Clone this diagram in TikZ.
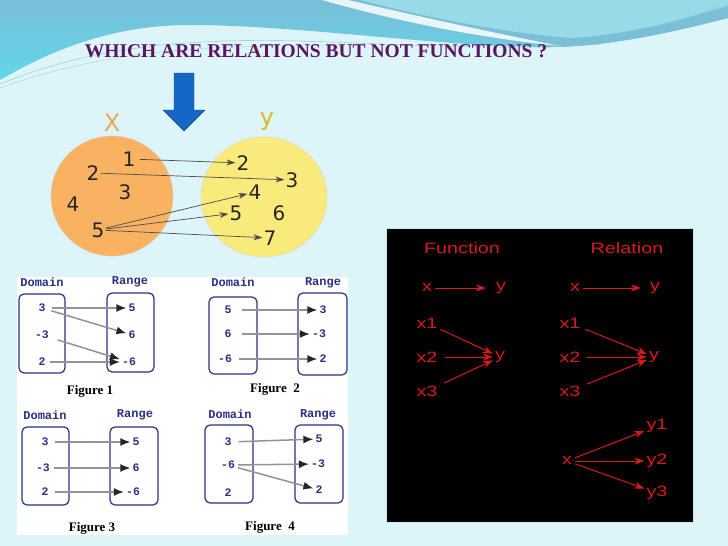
\documentclass[tikz,border=0pt]{standalone}
\usepackage{fontspec}
\setmainfont{Liberation Serif}
\newfontfamily\circfont{DejaVu Sans}
\newfontfamily\redfont{Liberation Sans}
\newfontfamily\figmono{Liberation Mono}
\usepackage{xcolor}
\usetikzlibrary{arrows.meta}

\definecolor{bgpale}{HTML}{DDF4F8}
\definecolor{topblue}{HTML}{78BFD7}
\definecolor{topcyan}{HTML}{62D6EA}
\definecolor{toplight}{HTML}{98DAE7}
\definecolor{titlepurple}{HTML}{5A1462}
\definecolor{arrowblue}{HTML}{1467C4}
\definecolor{setorange}{HTML}{F8B262}
\definecolor{setyellow}{HTML}{F8EB7C}
\definecolor{figblue}{HTML}{2B2F86}
\definecolor{redtext}{HTML}{D81A1A}

\newcommand{\wide}[1]{\scalebox{1.32}[1]{#1}}

\begin{document}
\begin{tikzpicture}[x=1pt, y=-1pt,
    setnum/.style={font=\circfont\fontsize{20}{20}\selectfont, text=black!85, inner sep=1pt},
    setarrow/.style={-{Stealth[length=9pt,width=6pt]}, draw=black!70, line width=0.7pt},
    domlabel/.style={font=\figmono\bfseries\fontsize{12}{12}\selectfont, text=figblue},
    figval/.style={font=\figmono\bfseries\fontsize{11.5}{11.5}\selectfont, text=figblue, inner sep=1pt},
    figbox/.style={draw=figblue, line width=1.2pt, rounded corners=5pt},
    figarrow/.style={-{Latex[length=10pt,width=8pt,color=black!85]}, draw=gray!85, line width=1.5pt, shorten <=3pt, shorten >=1pt},
    figcap/.style={font=\bfseries\fontsize{13}{13}\selectfont},
    redlab/.style={font=\redfont\fontsize{15}{15}\selectfont, text=redtext, inner sep=1pt},
    redarrow/.style={-{Stealth[length=10pt,width=7pt]}, draw=redtext, line width=1pt, shorten <=2pt, shorten >=1pt}]

  \useasboundingbox (0,0) rectangle (728,546);

  % slide background
  \fill[bgpale] (0,0) rectangle (728,546);
  \shade[top color=topblue, bottom color=topcyan] (0,0) -- (0,80)
    .. controls (60,45) and (120,25) .. (190,25)
    .. controls (300,25) and (450,48) .. (550,47)
    .. controls (620,45) and (680,30) .. (728,18) -- (728,0) -- cycle;
  \fill[topblue] (330,0) .. controls (420,25) and (490,42) .. (560,47)
    .. controls (620,45) and (680,30) .. (728,18) -- (728,0) -- cycle;
  \fill[toplight] (360,0) .. controls (430,18) and (500,32) .. (570,38)
    .. controls (640,34) and (690,16) .. (728,6) -- (728,0) -- cycle;
  \fill[white, opacity=0.85] (322,0) .. controls (400,22) and (480,38) .. (560,46)
    .. controls (470,28) and (400,12) .. (348,0) -- cycle;
  \draw[teal!45, thin] (0,84) .. controls (90,48) and (180,36) .. (330,42)
    .. controls (430,46) and (520,50) .. (600,44);
  \draw[teal!35, thin] (0,88) .. controls (100,52) and (200,44) .. (340,46);
  \draw[teal!45, thin] (540,48) .. controls (620,42) and (690,18) .. (728,4);

  % title
  \node[font=\bfseries\fontsize{19.5}{19.5}\selectfont, text=titlepurple] (title) at (316,51)
    {WHICH ARE RELATIONS BUT NOT FUNCTIONS ?};

  % down arrow
  \filldraw[fill=arrowblue, draw=arrowblue!70!black] (174,73) -- (194,73) -- (194,110)
    -- (205,110) -- (184,131) -- (163,110) -- (174,110) -- cycle;

  % the two sets
  \draw[fill=setorange, draw=brown!45] (112,196) ellipse [x radius=61pt, y radius=60pt];
  \draw[fill=setyellow, draw=brown!35] (264,197) ellipse [x radius=63pt, y radius=60pt];
  \node[font=\circfont\fontsize{24}{24}\selectfont, text=orange!60!brown!70] (setx) at (112,123) {X};
  \node[font=\circfont\fontsize{24}{24}\selectfont, text=yellow!70!orange!85!black] (sety) at (267,121) {y};

  \node[setnum] (xa) at (129,159) {1};
  \node[setnum] (xb) at (93,173) {2};
  \node[setnum] (xc) at (125,192) {3};
  \node[setnum] (xd) at (73,204) {4};
  \node[setnum] (xe) at (98,230) {5};
  \node[setnum] (yb) at (243,163) {2};
  \node[setnum] (yc) at (292,180) {3};
  \node[setnum] (yd) at (255,192) {4};
  \node[setnum] (ye) at (236,213) {5};
  \node[setnum] (yf) at (279,213) {6};
  \node[setnum] (yg) at (270,238) {7};

  \draw[setarrow, shorten <=3pt] (xa) -- (yb);
  \draw[setarrow] (xb) -- (yc);
  \draw[setarrow] (xe) -- (yd);
  \draw[setarrow] (xe) -- (ye);
  \draw[setarrow] (xe) -- (yg);

  % four mapping figures
  \fill[white] (17,277) rectangle (348,535);

  % figure 1
  \draw[figbox] (19,294) rectangle (65,373);
  \draw[figbox] (107,293) rectangle (154,372);
  \node[domlabel] (dom1) at (42,282) {Domain};
  \node[domlabel] (ran1) at (130,282) {Range};
  \node[figval] (pa1) at (42,308) {3};
  \node[figval] (pa2) at (42,335) {-3};
  \node[figval] (pa3) at (42,362) {2};
  \node[figval] (qa1) at (132,308) {5};
  \node[figval] (qa2) at (132,335) {6};
  \node[figval] (qa3) at (129,362) {-6};
  \draw[figarrow, shorten <=5pt] (pa1) -- (qa1);
  \draw[figarrow, shorten <=5pt] (pa1) -- (qa2);
  \draw[figarrow, shorten <=8pt] (pa2) -- (qa3);
  \draw[figarrow] (pa3) -- (qa3);
  \node[figcap] (cap1) at (90,391) {Figure 1};

  % figure 2
  \draw[figbox] (209,297) rectangle (257,374);
  \draw[figbox] (298,293) rectangle (347,375);
  \node[domlabel] (dom2) at (233,282) {Domain};
  \node[domlabel] (ran2) at (323,283) {Range};
  \node[figval] (pb1) at (228,310) {5};
  \node[figval] (pb2) at (228,334) {6};
  \node[figval] (pb3) at (225,359) {-6};
  \node[figval] (qb1) at (323,310) {3};
  \node[figval] (qb2) at (319,334) {-3};
  \node[figval] (qb3) at (323,359) {2};
  \draw[figarrow, shorten <=9pt] (pb1) -- (qb1);
  \draw[figarrow, shorten <=9pt] (pb2) -- (qb2);
  \draw[figarrow, shorten <=6pt] (pb3) -- (qb3);
  \node[figcap] (cap2) at (275,389) {Figure\enspace2};

  % figure 3
  \draw[figbox] (22,427) rectangle (69,505);
  \draw[figbox] (110,427) rectangle (158,505);
  \node[domlabel] (dom3) at (45,415) {Domain};
  \node[domlabel] (ran3) at (135,415) {Range};
  \node[figval] (pc1) at (45,442) {3};
  \node[figval] (pc2) at (43,468) {-3};
  \node[figval] (pc3) at (45,492) {2};
  \node[figval] (qc1) at (136,442) {5};
  \node[figval] (qc2) at (136,468) {6};
  \node[figval] (qc3) at (133,492) {-6};
  \draw[figarrow, shorten <=5pt] (pc1) -- (qc1);
  \draw[figarrow, shorten <=3pt] (pc2) -- (qc2);
  \draw[figarrow, shorten <=5pt] (pc3) -- (qc3);
  \node[figcap] (cap3) at (92,528) {Figure 3};

  % figure 4
  \draw[figbox] (205,425) rectangle (253,503);
  \draw[figbox] (295,425) rectangle (343,503);
  \node[domlabel] (dom4) at (230,414) {Domain};
  \node[domlabel] (ran4) at (318,415) {Range};
  \node[figval] (pd1) at (228,442) {3};
  \node[figval] (pd2) at (228,465) {-6};
  \node[figval] (pd3) at (228,493) {2};
  \node[figval] (qd1) at (319,439) {5};
  \node[figval] (qd2) at (318,464) {-3};
  \node[figval] (qd3) at (319,490) {2};
  \draw[figarrow, shorten <=6pt] (pd1) -- (qd1);
  \draw[figarrow, shorten <=2pt] (pd2) -- (qd2);
  \draw[figarrow, shorten <=2pt] (pd2) -- (qd3);
  \node[figcap] (cap4) at (270,527) {Figure\enspace4};

  % function / relation panel
  \filldraw[fill=black, draw=cyan!25] (386,228) rectangle (693,522);
  \node[redlab] (fun) at (462,248) {\wide{Function}};
  \node[redlab] (rel) at (627,248) {\wide{Relation}};

  \node[redlab] (fx) at (427,288) {\wide{x}};
  \node[redlab] (fy) at (501,288) {\wide{y}};
  \node[redlab] (fxa) at (427,323) {\wide{x1}};
  \node[redlab] (fxb) at (427,357) {\wide{x2}};
  \node[redlab] (fxc) at (427,391) {\wide{x3}};
  \node[redlab] (fyy) at (500,357) {\wide{y}};
  \draw[redarrow, shorten >=9pt] (fx) -- (fy);
  \draw[redarrow] (fxa) -- (fyy);
  \draw[redarrow, shorten <=6pt] (fxb) -- (fyy);
  \draw[redarrow, shorten <=6pt] (fxc) -- (fyy);

  \node[redlab] (rx) at (575,288) {\wide{x}};
  \node[redlab] (ry) at (655,288) {\wide{y}};
  \node[redlab] (rxa) at (570,323) {\wide{x1}};
  \node[redlab] (rxb) at (570,357) {\wide{x2}};
  \node[redlab] (rxc) at (570,391) {\wide{x3}};
  \node[redlab] (ryy) at (654,357) {\wide{y}};
  \draw[redarrow, shorten >=8pt] (rx) -- (ry);
  \draw[redarrow, shorten <=4pt] (rxa) -- (ryy);
  \draw[redarrow, shorten <=4pt] (rxb) -- (ryy);
  \draw[redarrow, shorten <=6pt] (rxc) -- (ryy);

  \node[redlab] (rz) at (567,461) {\wide{x}};
  \node[redlab] (rya) at (657,426) {\wide{y1}};
  \node[redlab] (ryb) at (657,461) {\wide{y2}};
  \node[redlab] (ryc) at (657,493) {\wide{y3}};
  \draw[redarrow] (rz) -- (rya);
  \draw[redarrow] (rz) -- (ryb);
  \draw[redarrow] (rz) -- (ryc);
\end{tikzpicture}
\end{document}
